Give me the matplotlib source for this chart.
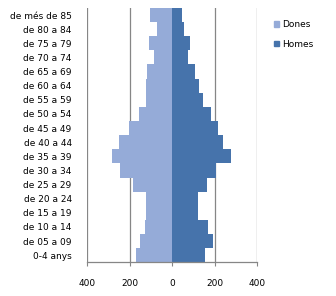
import matplotlib.pyplot as plt
from matplotlib.patches import Patch

groups = ["0-4 anys", "de 05 a 09", "de 10 a 14", "de 15 a 19", "de 20 a 24",
          "de 25 a 29", "de 30 a 34", "de 35 a 39", "de 40 a 44", "de 45 a 49",
          "de 50 a 54", "de 55 a 59", "de 60 a 64", "de 65 a 69", "de 70 a 74",
          "de 75 a 79", "de 80 a 84", "de més de 85"]
dones = [171, 152, 128, 121, 125, 184, 246, 284, 251, 202,
         155, 125, 124, 119, 86, 110, 73, 102]
homes = [154, 192, 168, 122, 122, 163, 206, 275, 237, 214,
         181, 143, 124, 108, 72, 82, 54, 47]
ticks = [-400, -200, 0, 200, 400]

c_dones = "#95ABD8"
c_homes = "#4673AB"
grey = "#868686"

fig = plt.figure(figsize=(3.36, 2.96), dpi=100)
ax = fig.add_axes([0.259, 0.114, 0.507, 0.859])

y = range(len(groups))
ax.barh(y, [-v for v in dones], height=1.0, color=c_dones, zorder=2)
ax.barh(y, homes, height=1.0, color=c_homes, zorder=2)

ax.set_xlim(-400, 400)
ax.set_ylim(-0.5, len(groups) - 0.5)
ax.set_xticks(ticks)
ax.set_xticklabels([str(abs(t)) for t in ticks], fontsize=6.5)
ax.set_yticks(list(y))
ax.set_yticklabels(groups, fontsize=6.5)
ax.tick_params(axis="y", length=0, pad=11)
ax.tick_params(axis="x", length=3, color=grey, pad=9, direction="out")

for t in ticks:
    ax.axvline(t, color=grey, lw=0.9, zorder=1)
for s in ["top", "right", "left"]:
    ax.spines[s].set_visible(False)
ax.spines["bottom"].set_color(grey)
ax.spines["bottom"].set_linewidth(0.9)

handles = [Patch(color=c_dones, label="Dones"), Patch(color=c_homes, label="Homes")]
fig.legend(handles=handles, loc="upper left", bbox_to_anchor=(0.79, 0.96),
           frameon=False, fontsize=6.5, handlelength=0.6, handleheight=0.6,
           handletextpad=0.4, labelspacing=1.2)

fig.savefig("out.png", dpi=100)
